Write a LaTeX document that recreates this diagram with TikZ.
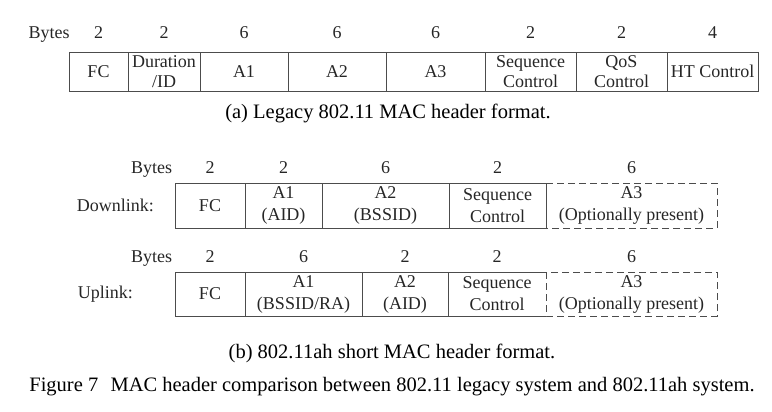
\documentclass[tikz,border=0pt]{standalone}
\usepackage{fontspec}
\setmainfont{Liberation Serif}
\usetikzlibrary{positioning}

\tikzset{
	field/.style={draw=black!70, line width=0.8pt, inner sep=0pt, outer sep=0pt,
		align=center, text=black!85, font=\fontsize{18}{20}\selectfont},
	tallfield/.style={field, font=\fontsize{18}{22}\selectfont},
	bytes/.style={inner sep=0pt, text=black!85, font=\fontsize{18}{20}\selectfont},
	caption/.style={inner sep=0pt, text=black, font=\fontsize{20.5}{24}\selectfont},
	optline/.style={draw=black!70, line width=0.8pt, dash pattern=on 7pt off 4pt}
}

\begin{document}
\begin{tikzpicture}[x=1pt,y=-1pt]
	\useasboundingbox (0,0) rectangle (772,412);
	
	% (a) legacy header
	\begin{scope}[every node/.append style={minimum height=39pt}]
		\node[field, anchor=north west, minimum width=59pt] (afc) at (69,52) {FC};
		\node[field, right=0pt of afc, minimum width=72pt] (adur) {Duration\\/ID};
		\node[field, right=0pt of adur, minimum width=88pt] (aa1) {A1};
		\node[field, right=0pt of aa1, minimum width=98pt] (aa2) {A2};
		\node[field, right=0pt of aa2, minimum width=99pt] (aa3) {A3};
		\node[field, right=0pt of aa3, minimum width=91pt] (aseq) {Sequence\\Control};
		\node[field, right=0pt of aseq, minimum width=91pt] (aqos) {QoS\\Control};
		\node[field, right=0pt of aqos, minimum width=91pt] (aht) {HT Control};
	\end{scope}
	\foreach \f/\n in {afc/2, adur/2, aa1/6, aa2/6, aa3/6, aseq/2, aqos/2, aht/4}
		\node[bytes, above=13pt of \f.north, anchor=base] (\f-n) {\n};
	\node[bytes, left=24pt of afc-n.base west, anchor=base east] (abytes) {Bytes};
	\node[caption, anchor=base] (acap) at (388,118) {(a) Legacy 802.11 MAC header format.};
	
	% (b) downlink
	\begin{scope}[every node/.append style={minimum height=45pt}]
		\node[tallfield, anchor=north west, minimum width=70pt] (dfc) at (175,183) {FC};
		\node[tallfield, right=0pt of dfc, minimum width=77pt] (da1) {A1\\(AID)};
		\node[tallfield, right=0pt of da1, minimum width=127pt] (da2) {A2\\(BSSID)};
		\node[tallfield, right=0pt of da2, minimum width=97pt] (dseq) {Sequence\\Control};
		\node[tallfield, draw=none, right=0pt of dseq, minimum width=171pt] (da3) {A3\\(Optionally present)};
	\end{scope}
	\draw[optline] (da3.north west) -- (da3.north east) -- (da3.south east) -- (da3.south west);
	\foreach \f/\n in {dfc/2, da1/2, da2/6, dseq/2, da3/6}
		\node[bytes, above=10pt of \f.north, anchor=base] (\f-n) {\n};
	\node[bytes, left=33pt of dfc-n.base west, anchor=base east] (dbytes) {Bytes};
	\node[bytes, left=21pt of dfc.west, anchor=east] (dlabel) {Downlink:};
	
	% (b) uplink
	\begin{scope}[every node/.append style={minimum height=44pt}]
		\node[tallfield, anchor=north west, minimum width=70pt] (ufc) at (175,272) {FC};
		\node[tallfield, right=0pt of ufc, minimum width=117pt] (ua1) {A1\\(BSSID/RA)};
		\node[tallfield, right=0pt of ua1, minimum width=86pt] (ua2) {A2\\(AID)};
		\node[tallfield, draw=none, right=0pt of ua2, minimum width=98pt] (useq) {Sequence\\Control};
		\node[tallfield, draw=none, right=0pt of useq, minimum width=171pt] (ua3) {A3\\(Optionally present)};
	\end{scope}
	\draw[draw=black!70, line width=0.8pt] (ua2.north east) -- (useq.north east)
		(ua2.south east) -- (useq.south east);
	\draw[optline] (ua3.north west) rectangle (ua3.south east);
	\foreach \f/\n in {ufc/2, ua1/6, ua2/2, useq/2, ua3/6}
		\node[bytes, above=10pt of \f.north, anchor=base] (\f-n) {\n};
	\node[bytes, left=33pt of ufc-n.base west, anchor=base east] (ubytes) {Bytes};
	\node[bytes, left=42pt of ufc.west, anchor=east] (ulabel) {Uplink:};
	
	\node[caption, anchor=base] (bcap) at (392,358) {(b) 802.11ah short MAC header format.};
	\node[caption, anchor=base] (figcap) at (392,391) {Figure 7\hspace{0.6em}MAC header comparison between 802.11 legacy system and 802.11ah system.};
\end{tikzpicture}
\end{document}
